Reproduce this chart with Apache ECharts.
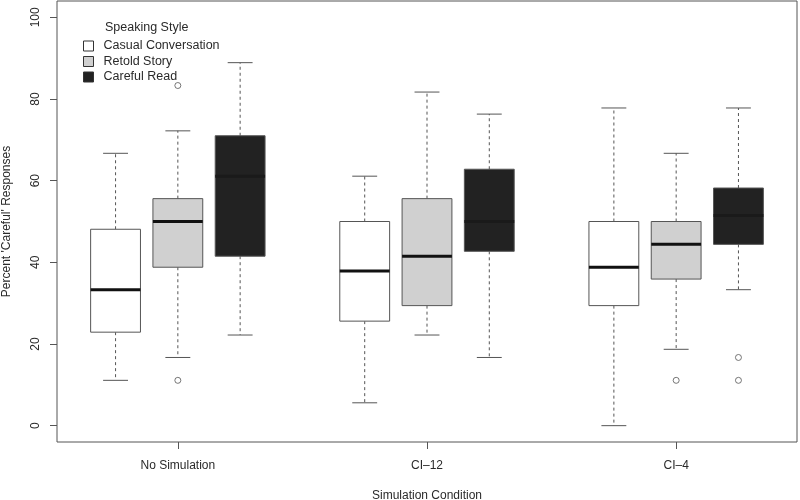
<!DOCTYPE html>
<html>
<head>
<meta charset="utf-8">
<script src="https://cdn.jsdelivr.net/npm/echarts@6/dist/echarts.min.js"></script>
<style>html,body{margin:0;padding:0;background:#fff}#chart{width:800px;height:500px}</style>
</head>
<body>
<div id="chart"></div>
<script>
// ---- data ----
const categories = ['No Simulation', 'CI\u201312', 'CI\u20134'];
const styles = ['Casual Conversation', 'Retold Story', 'Careful Read'];
const yTicks = [0, 20, 40, 60, 80, 100];
// [lowWhisker, Q1, median, Q3, highWhisker] per simulation condition
const casualBoxes  = [[11.1, 22.9, 33.3, 48.1, 66.7], [5.6, 25.6, 37.9, 50.0, 61.1], [0.0, 29.4, 38.8, 50.0, 77.8]];
const retoldBoxes  = [[16.7, 38.8, 50.0, 55.6, 72.2], [22.2, 29.4, 41.5, 55.6, 81.7], [18.7, 35.9, 44.4, 50.0, 66.7]];
const carefulBoxes = [[22.2, 41.5, 61.1, 71.0, 88.9], [16.7, 42.7, 50.0, 62.8, 76.3], [33.3, 44.4, 51.5, 58.2, 77.8]];
const casualOutliers  = [[], [], []];
const retoldOutliers  = [[83.3, 11.1], [], [11.1]];
const carefulOutliers = [[], [], [16.7, 11.1]];

const boxSets = [casualBoxes, retoldBoxes, carefulBoxes];
const outSets = [casualOutliers, retoldOutliers, carefulOutliers];
const fills = ['#ffffff', '#d0d0d0', '#222222'];
const medianColors = ['#111111', '#111111', '#1a1a1a'];
const FONT = '"Liberation Sans", Arial, Helvetica, sans-serif';
const TXT = '#2a2a2a';
const LINE = '#555555';

// position of a box on the x scale: groups of 3 with one empty slot between
function pos(g, s) { return g * 4 + s + 1; }
const labelPos = categories.map((c, g) => pos(g, 1));

function makeRender(si) {
  return function (params, api) {
    const x = api.value(0);
    const lo = api.coord([x, api.value(1)]);
    const q1 = api.coord([x, api.value(2)]);
    const md = api.coord([x, api.value(3)]);
    const q3 = api.coord([x, api.value(4)]);
    const hi = api.coord([x, api.value(5)]);
    const hw = api.size([0.8, 0])[0] / 2;
    const cw = api.size([0.4, 0])[0] / 2;
    const cx = lo[0];
    const dash = { stroke: LINE, lineWidth: 1, lineDash: [3, 3] };
    const solid = { stroke: LINE, lineWidth: 1 };
    return {
      type: 'group',
      children: [
        { type: 'line', shape: { x1: cx, y1: q3[1], x2: cx, y2: hi[1] }, style: dash },
        { type: 'line', shape: { x1: cx, y1: q1[1], x2: cx, y2: lo[1] }, style: dash },
        { type: 'line', shape: { x1: cx - cw, y1: hi[1], x2: cx + cw, y2: hi[1] }, style: solid },
        { type: 'line', shape: { x1: cx - cw, y1: lo[1], x2: cx + cw, y2: lo[1] }, style: solid },
        { type: 'rect', shape: { x: cx - hw, y: q3[1], width: 2 * hw, height: q1[1] - q3[1] },
          style: { fill: fills[si], stroke: LINE, lineWidth: 1 } },
        { type: 'line', shape: { x1: cx - hw, y1: md[1], x2: cx + hw, y2: md[1] },
          style: { stroke: medianColors[si], lineWidth: 3 } }
      ]
    };
  };
}

const series = [];
styles.forEach((name, si) => {
  series.push({
    name: name,
    type: 'custom',
    renderItem: makeRender(si),
    itemStyle: { color: fills[si], borderColor: '#333' },
    encode: { x: 0, y: [1, 2, 3, 4, 5] },
    data: boxSets[si].map((b, g) => [pos(g, si)].concat(b)),
    z: 2
  });
});
styles.forEach((name, si) => {
  const pts = [];
  outSets[si].forEach((arr, g) => arr.forEach(v => pts.push([pos(g, si), v])));
  series.push({
    name: name + ' outliers',
    type: 'scatter',
    symbol: 'circle',
    symbolSize: 6,
    itemStyle: { color: '#ffffff', borderColor: LINE, borderWidth: 1 },
    data: pts,
    z: 3
  });
});

const chart = echarts.init(document.getElementById('chart'), null, { renderer: 'canvas' });
chart.setOption({
  backgroundColor: '#ffffff',
  animation: false,
  textStyle: { fontFamily: FONT },
  title: {
    text: 'Speaking Style', left: 105, top: 21, padding: 0,
    textStyle: { fontFamily: FONT, fontSize: 12.5, fontWeight: 'normal', color: TXT }
  },
  legend: {
    data: styles.map((n, i) => ({ name: n, icon: 'rect', itemStyle: { color: fills[i], borderColor: '#333', borderWidth: 1 } })),
    orient: 'vertical', left: 83, top: 39, padding: 0,
    itemWidth: 10, itemHeight: 10, itemGap: 1.5,
    textStyle: { fontFamily: FONT, fontSize: 12.5, color: TXT, lineHeight: 14, padding: [0, 0, 0, 5] },
    selectedMode: false
  },
  grid: { left: 57, right: 3, top: 1, bottom: 58, show: true, borderColor: '#555', borderWidth: 1,
          backgroundColor: 'transparent', containLabel: false, outerBoundsMode: 'none' },
  xAxis: {
    type: 'value', min: 0.06, max: 11.94,
    name: 'Simulation Condition', nameLocation: 'middle', nameGap: 48,
    nameTextStyle: { fontFamily: FONT, fontSize: 12, color: TXT },
    axisLine: { show: false, onZero: false },
    splitLine: { show: false },
    axisTick: { show: true, length: 7, customValues: labelPos, lineStyle: { color: LINE } },
    axisLabel: {
      customValues: labelPos, margin: 18, fontFamily: FONT, fontSize: 12, color: TXT,
      formatter: v => categories[labelPos.indexOf(Math.round(v))] || ''
    }
  },
  yAxis: {
    type: 'value', min: -4, max: 104,
    name: "Percent 'Careful' Responses", nameLocation: 'middle', nameGap: 44, nameRotate: 90,
    nameTextStyle: { fontFamily: FONT, fontSize: 12, color: TXT },
    axisLine: { show: false, onZero: false },
    splitLine: { show: false },
    axisTick: { show: true, length: 7, customValues: yTicks, lineStyle: { color: LINE } },
    axisLabel: { customValues: yTicks, rotate: 90, margin: 15, fontFamily: FONT, fontSize: 12, color: TXT }
  },
  series: series
});
</script>
</body>
</html>
